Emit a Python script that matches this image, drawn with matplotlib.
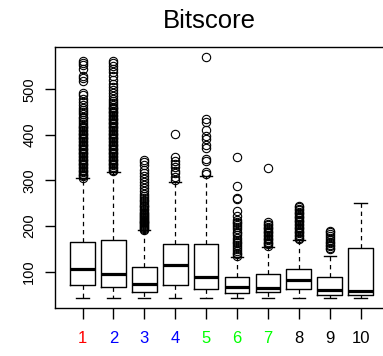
import matplotlib
matplotlib.use('Agg')
import matplotlib.pyplot as plt

plt.rcParams['font.family'] = ['Liberation Sans', 'DejaVu Sans']

# Box summaries (bitscore)
labels = ['1', '2', '3', '4', '5', '6', '7', '8', '9', '10']
label_colors = ['red', 'blue', 'blue', 'blue', '#00ff00', '#00ff00', '#00ff00',
                'black', 'black', 'black']
q1 = [70, 67, 56, 70, 61, 53, 55, 61, 48, 49]
med = [105, 96, 73, 114, 89, 66, 63.5, 82, 60, 57.5]
q3 = [166, 169.5, 109.5, 161, 161, 87.5, 95, 105, 88, 151]
whislo = [41.5, 41.5, 41.5, 41.5, 41.5, 41.5, 41.5, 41.5, 41.5, 41.5]
whishi = [305, 319, 191, 297, 310.6, 132, 155, 169.5, 134.5, 251]

fl1 = [306, 309, 312, 315, 318, 321, 324, 327, 330, 333, 336, 339, 342, 345, 348,
       351, 354, 357, 360, 363, 366, 369, 372, 375, 378, 381, 384, 387, 390, 393,
       396, 399, 402, 405, 408, 411, 414, 417, 420, 424, 428, 432, 436, 440, 445,
       450, 455, 460, 466, 472, 478, 487, 492, 518, 524, 530, 545, 553, 558, 563]
fl2 = [321, 324, 327, 330, 333, 336, 339, 342, 345, 348, 351, 354, 357, 360, 363,
       366, 369, 372, 375, 378, 381, 384, 387, 390, 393, 396, 399, 402, 405, 408,
       411, 414, 417, 420, 423, 426, 429, 432, 435, 438, 441, 444, 447, 450, 453,
       456, 459, 462, 466, 470, 474, 478, 486, 492, 498, 505, 512, 520, 530, 537,
       545, 552, 557, 561]
fl3 = [192, 194, 196, 198, 200, 202, 204, 206, 208, 210, 212, 214, 216, 218, 220,
       222, 224, 226, 229, 232, 235, 238, 241, 244, 247, 250, 254, 258, 262, 266,
       270, 276, 283, 290, 297, 303, 310, 316, 324, 333, 340, 345]
fl4 = [300, 308, 316, 320, 330, 336, 342, 352, 403]
fl5 = [314, 318, 342, 348, 372, 378, 392, 398, 410, 428, 434, 570]
fl6 = [135, 138, 142, 146, 150, 154, 158, 162, 166, 170, 175, 180, 184, 188, 193,
       198, 202, 206, 210, 214, 222, 233, 259, 262, 289, 351]
fl7 = [157, 160, 163, 166, 169, 172, 175, 178, 181, 184, 187, 190, 193, 196, 199,
       202, 205, 208, 327]
fl8 = [172, 175, 178, 181, 184, 187, 190, 193, 196, 199, 202, 205, 208, 211, 214,
       217, 220, 223, 226, 229, 232, 235, 238, 241, 243]
fl9 = [150, 153, 156, 159, 162, 166, 170, 174, 178, 182, 186, 189]
fl10 = []
fliers = [fl1, fl2, fl3, fl4, fl5, fl6, fl7, fl8, fl9, fl10]

yticks = [100, 200, 300, 400, 500]

stats = []
for i in range(len(labels)):
    stats.append({'med': med[i], 'q1': q1[i], 'q3': q3[i],
                  'whislo': whislo[i], 'whishi': whishi[i], 'fliers': fliers[i]})

fig = plt.figure(figsize=(3.83, 3.56), dpi=100)
# right edge of the plot box is cropped off in the reference
ax = fig.add_axes([54.7 / 383, 0.1362, 333.7 / 383, 0.7309])

ax.bxp(stats, positions=range(1, 11), widths=0.8, capwidths=0.4,
       boxprops=dict(color='black', linewidth=1.0),
       medianprops=dict(color='black', linewidth=2.3, solid_capstyle='butt'),
       whiskerprops=dict(color='black', linewidth=0.9, linestyle=(0, (3.5, 3))),
       capprops=dict(color='black', linewidth=1.0),
       flierprops=dict(marker='o', markerfacecolor='none', markeredgecolor='black',
                       markersize=6, markeredgewidth=0.8))

ax.set_xlim(0.1, 10.9)
ax.set_ylim(21.5, 592)

ax.set_xticks(range(1, 11))
ax.set_xticklabels(labels, fontsize=12)
for lbl, c in zip(ax.get_xticklabels(), label_colors):
    lbl.set_color(c)
ax.set_yticks(yticks)
ax.set_yticklabels([str(v) for v in yticks], fontsize=10.5, rotation=90, va='center')

ax.tick_params(axis='x', length=8, width=1, pad=9)
ax.tick_params(axis='y', length=7.2, width=1, pad=6)
for s in ax.spines.values():
    s.set_linewidth(1.0)

fig.text(0.546, 0.941, 'Bitscore', ha='center', va='center', fontsize=18.5)

fig.savefig('out.png', dpi=100)
